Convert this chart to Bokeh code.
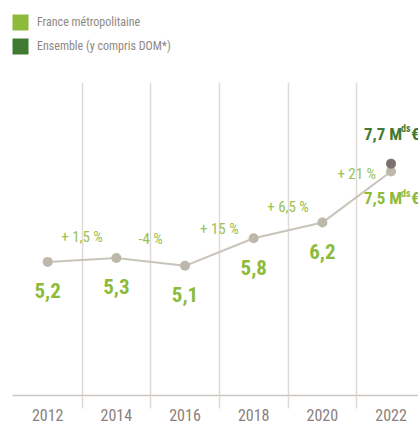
from bokeh.plotting import figure
from bokeh.models import Range1d, FixedTicker, Legend, LegendItem, ColumnDataSource
from bokeh.core.properties import value
from bokeh.embed import file_html
from bokeh.resources import INLINE

# ---- data ----
years = [2012, 2014, 2016, 2018, 2020, 2022]
year_labels = ["2012", "2014", "2016", "2018", "2020", "2022"]
france = [5.2, 5.3, 5.1, 5.8, 6.2, 7.5]
ensemble_years = [2022]
ensemble = [7.7]
growth_labels = ["+ 1,5 %", "-4 %", "+ 15 %", "+ 6,5 %", "+ 21 %"]
series_names = ["France métropolitaine", "Ensemble (y compris DOM*)"]
unit_main = " M"
unit_sup = "ds"
unit_end = "€"

# ---- style ----
LIGHT = "#8cbb3c"
DARK = "#3f7a30"
PCT = "#97c255"
POINT = "#bdb8aa"
DARKPOINT = "#7a7170"
LINE = "#c9c4ba"
GRID = "#dfdbd4"
AXIS = "#cbc7c0"
YEAR = "#8b807b"
LEGTXT = "#8e8884"
FONT = "Roboto Condensed, DejaVu Sans Condensed, Liberation Sans Narrow, Liberation Sans, sans-serif"
Y_MIN, Y_MAX = 1.80, 11.851
GRID_TOP = 9.764  # value where the vertical guide lines stop

def fmt(v):
    return f"{v:.1f}".replace(".", ",")

p = figure(width=418, height=427, output_backend="svg", toolbar_location=None,
           x_range=Range1d(2010.975, 2022.80), y_range=Range1d(Y_MIN, Y_MAX),
           y_axis_location=None, title=None,
           min_border_left=12, min_border_right=0, min_border_top=0, min_border_bottom=32,
           outline_line_color=None, background_fill_color="white", border_fill_color="white")

mids_x = [(a + b) / 2 for a, b in zip(years[:-1], years[1:])]
mids_y = [(a + b) / 2 for a, b in zip(france[:-1], france[1:])]

ax = p.xaxis[0]
ax.ticker = FixedTicker(ticks=years, minor_ticks=mids_x)
ax.major_label_overrides = {y: l for y, l in zip(years, year_labels)}
ax.major_tick_line_color = None
ax.major_tick_out = 0
ax.major_tick_in = 0
ax.minor_tick_line_color = GRID
ax.minor_tick_line_width = 1.5
ax.minor_tick_out = 13
ax.minor_tick_in = 0
ax.axis_line_color = AXIS
ax.axis_line_width = 1.5
ax.major_label_text_font = FONT
ax.major_label_text_font_size = "16px"
ax.major_label_text_color = YEAR
ax.major_label_standoff = 0

p.xgrid.ticker = FixedTicker(ticks=mids_x)
p.xgrid.cross_bounds = (Y_MIN, GRID_TOP)
p.xgrid.grid_line_color = GRID
p.xgrid.grid_line_width = 1.5
p.ygrid.visible = False

# line and points
p.line(years, france, line_color=LINE, line_width=2)
p.scatter(years, france, size=10, fill_color=POINT, line_color=None)
p.scatter(ensemble_years, ensemble, size=10, fill_color=DARKPOINT, line_color=None)

# value labels (2012-2020)
src = ColumnDataSource(dict(x=years[:-1], y=france[:-1], t=[fmt(v) for v in france[:-1]]))
p.text(x="x", y="y", text="t", source=src, y_offset=29, text_align="center",
       text_baseline="middle", text_font=value(FONT), text_font_style="bold",
       text_font_size="21px", text_color=LIGHT)

# growth labels
p.text(x=mids_x, y=mids_y, text=growth_labels, y_offset=-23, text_align="center",
       text_baseline="middle", text_font=value(FONT), text_font_size="15px", text_color=PCT)

# 2022 labels with "Mds€"
def big_label(x, y, v, yoff, color):
    kw = dict(text_baseline="middle", text_align="left", text_font=value(FONT),
              text_font_style="bold", text_color=color)
    p.text(x=[x], y=[y], text=[fmt(v) + unit_main], x_offset=-27, y_offset=yoff,
           text_font_size="17px", **kw)
    p.text(x=[x], y=[y], text=[unit_sup], x_offset=10, y_offset=yoff - 5,
           text_font_size="10px", **kw)
    p.text(x=[x], y=[y], text=[unit_end], x_offset=20, y_offset=yoff,
           text_font_size="17px", **kw)

big_label(years[-1], france[-1], france[-1], 27, LIGHT)
big_label(ensemble_years[0], ensemble[0], ensemble[0], -30, DARK)

# legend swatches (zero-area quads carrying the two series)
r1 = p.quad(left=years, right=years, top=france, bottom=france,
            fill_color=LIGHT, line_color=None)
r2 = p.quad(left=ensemble_years, right=ensemble_years, top=ensemble, bottom=ensemble,
            fill_color=DARK, line_color=None)
legend = Legend(items=[LegendItem(label=series_names[0], renderers=[r1]),
                       LegendItem(label=series_names[1], renderers=[r2])],
                location=(-2, 339), orientation="vertical", click_policy="none",
                glyph_width=20, glyph_height=20, label_height=20, spacing=4,
                label_standoff=7, padding=0, margin=0,
                border_line_color=None, background_fill_alpha=0,
                label_text_font=FONT, label_text_font_size="12px",
                label_text_color=LEGTXT)
p.add_layout(legend)

open("out.html", "w").write(file_html(p, INLINE))
